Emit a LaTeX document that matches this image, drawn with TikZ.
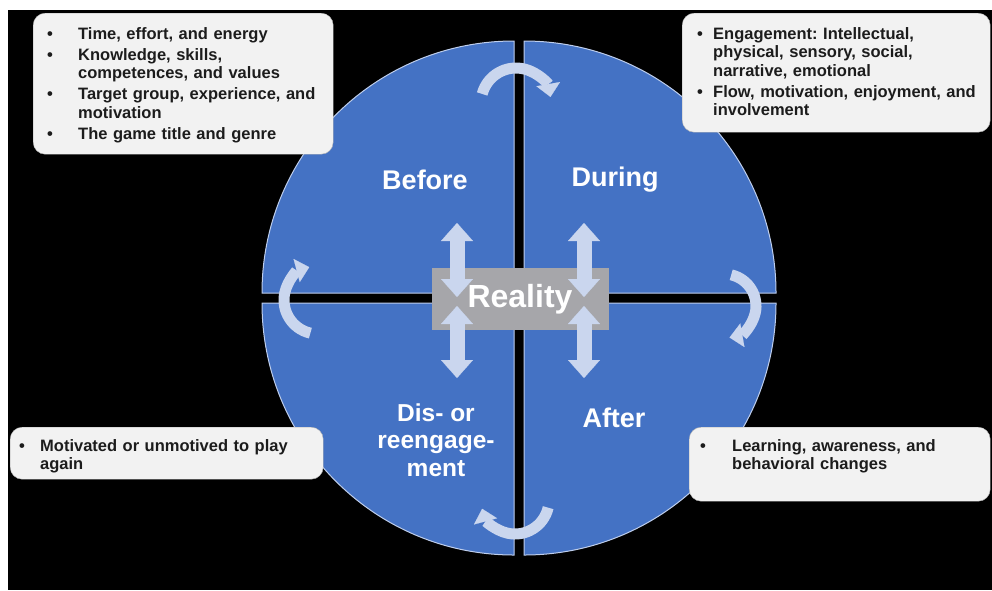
\documentclass[tikz,border=0pt]{standalone}
\usepackage{fontspec}
\setmainfont{Liberation Sans}
\usetikzlibrary{calc,arrows.meta}

\definecolor{quadblue}{RGB}{68,114,196}
\definecolor{quadedge}{RGB}{190,206,236}
\definecolor{arrowfill}{RGB}{202,214,238}
\definecolor{realgray}{RGB}{166,166,170}
\definecolor{notefill}{RGB}{242,242,242}
\definecolor{notetext}{RGB}{28,28,28}

% bullet line with a hanging indent
\newcommand\noteitem[2][28pt]{\noindent\hangindent=#1\hangafter=1\makebox[#1][l]{\textbullet}#2\par}

\tikzset{
  quad/.style={fill=quadblue, draw=quadedge, line width=1pt},
  phase/.style={text=white, font=\fontsize{27}{28}\selectfont\bfseries, align=center},
  note/.style={fill=notefill, draw=gray!60, rounded corners=12pt, inner sep=0pt, anchor=north west},
  notelist/.style={anchor=north west, inner sep=0pt, text=notetext, align=left,
    font=\fontsize{16.5}{18.5}\selectfont\bfseries\frenchspacing,
    execute at begin node=\setlength\parskip{2.5pt}},
  updown/.style={draw=arrowfill, line width=15pt,
    {Triangle[width=32pt,length=18pt,line width=0.1pt]}-{Triangle[width=32pt,length=18pt,line width=0.1pt]}},
  turn/.style={draw=arrowfill, line width=11pt, -{Triangle[width=24pt,length=13pt,line width=0.1pt]}},
}

\begin{document}
\begin{tikzpicture}[x=1pt, y=-1pt]
    \useasboundingbox (0,0) rectangle (992,590);
    \fill[white] (0,0) rectangle (992,590);
    \fill[black] (8,10) rectangle (992,590);

    \coordinate (o) at (519,298);

    % four quarters of the circle
    \filldraw[quad] ($(o)+(-5,-5)$) -- ++(180:252) arc[start angle=180, end angle=270, radius=252] -- cycle;
    \filldraw[quad] ($(o)+(5,-5)$) -- ++(270:252) arc[start angle=270, end angle=360, radius=252] -- cycle;
    \filldraw[quad] ($(o)+(5,5)$) -- ++(0:252) arc[start angle=0, end angle=90, radius=252] -- cycle;
    \filldraw[quad] ($(o)+(-5,5)$) -- ++(90:252) arc[start angle=90, end angle=180, radius=252] -- cycle;

    \node[phase] (before) at ($(o)+(-94,-118)$) {Before};
    \node[phase] (during) at ($(o)+(96,-118)$) {During};
    \node[phase] (after) at ($(o)+(95,120)$) {After};
    \node[phase, font=\fontsize{24.5}{27.5}\selectfont\bfseries] (reengage) at ($(o)+(-83,142)$) {Dis- or\\reengage-\\ment};

    % reality box and the arrows through it
    \node[fill=realgray, minimum width=177pt, minimum height=62pt] (realityBox) at ($(o)+(1,1)$) {};

    \foreach \dx/\s in {-62/l, 65/r}{
        \coordinate (\s a) at ($(o)+(\dx,-75)$);
        \coordinate (\s b) at ($(o)+(\dx,-1)$);
        \coordinate (\s c) at ($(o)+(\dx,8)$);
        \coordinate (\s d) at ($(o)+(\dx,80)$);
        \draw[updown] (\s a) -- (\s b);
        \draw[updown] (\s c) -- (\s d);
    }

    \node[text=white, font=\fontsize{32}{34}\selectfont\bfseries] (reality) at (realityBox) {Reality};

    % turning arrows between the quarters
    \coordinate (topTurn) at ($(o)+(-3,-195)$);
    \coordinate (rightTurn) at ($(o)+(205,8)$);
    \coordinate (bottomTurn) at ($(o)+(-4,202)$);
    \coordinate (leftTurn) at ($(o)+(-201,2)$);

    \draw[turn] (topTurn) ++(195:35) arc[start angle=195, end angle=350, radius=35];
    \draw[turn] (rightTurn) ++(-77:32) arc[start angle=-77, end angle=80, radius=32];
    \draw[turn] (bottomTurn) ++(13:34) arc[start angle=13, end angle=165, radius=34];
    \draw[turn] (leftTurn) ++(103:34) arc[start angle=103, end angle=255, radius=34];

    % notes
    \node[note, minimum width=300pt, minimum height=141pt] (beforeNote) at (33,13) {};
    \node[notelist, text width=282pt] (beforeList) at (47,27) {%
        \noteitem[31pt]{Time, effort, and energy}%
        \noteitem[31pt]{Knowledge, skills,\newline competences, and values}%
        \noteitem[31pt]{Target group, experience, and\newline motivation}%
        \noteitem[31pt]{The game title and genre}};

    \node[note, minimum width=308pt, minimum height=119pt] (duringNote) at (682,13) {};
    \node[notelist, text width=290pt] (duringList) at (697,27) {%
        \noteitem[16pt]{Engagement: Intellectual,\newline physical, sensory, social,\newline narrative, emotional}%
        \noteitem[16pt]{Flow, motivation, enjoyment, and\newline involvement}};

    \node[note, minimum width=313pt, minimum height=52pt] (reengageNote) at (10,427) {};
    \node[notelist, text width=300pt] (reengageList) at (19,439) {%
        \noteitem[21pt]{Motivated or unmotived to play\newline again}};

    \node[note, minimum width=301pt, minimum height=74pt] (afterNote) at (689,427) {};
    \node[notelist, text width=288pt] (afterList) at (700,439) {%
        \noteitem[32pt]{Learning, awareness, and\newline behavioral changes}};
\end{tikzpicture}
\end{document}
